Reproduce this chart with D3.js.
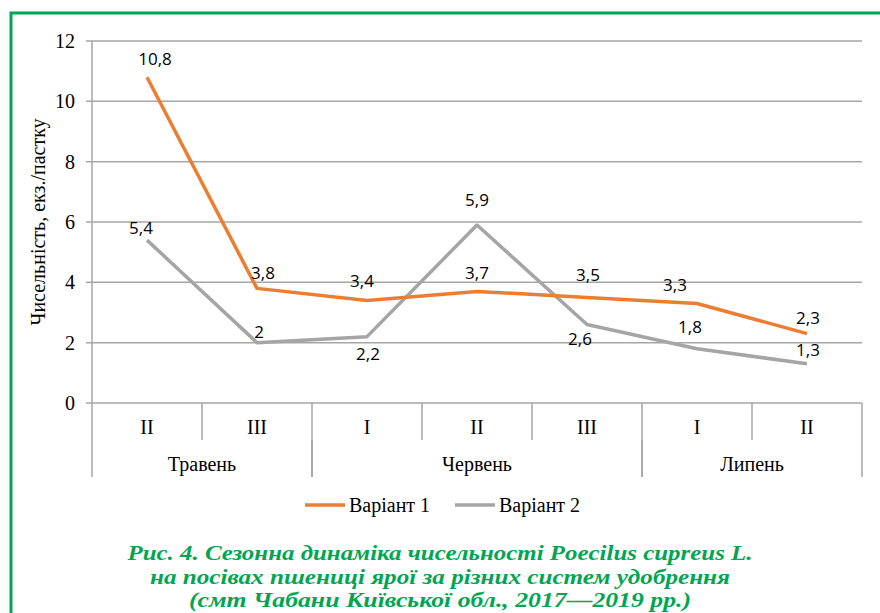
<!DOCTYPE html>
<meta charset="utf-8">
<style>
body { margin: 0; background: #fff; }
.grid line { stroke: #a6a6a6; stroke-width: 1.5; }
.series { fill: none; stroke-width: 3.5; stroke-linejoin: round; }
</style>
<body>
<script src="https://d3js.org/d3.v7.min.js"></script>
<script>

var decades = ["II", "III", "I", "II", "III", "I", "II"];
var months = ["Травень", "Червень", "Липень"];
var monthSpan = [2, 3, 2];
var variant1 = [10.8, 3.8, 3.4, 3.7, 3.5, 3.3, 2.3];
var variant2 = [5.4, 2, 2.2, 5.9, 2.6, 1.8, 1.3];
var yTicks = [0, 2, 4, 6, 8, 10, 12];
var seriesNames = ["Варіант 1", "Варіант 2"];
var colors = ["#ed7d31", "#a5a5a5"];
var caption = [
  "Рис. 4. Сезонна динаміка чисельності Poecilus cupreus L.",
  "на посівах пшениці ярої за різних систем удобрення",
  "(смт Чабани Київської обл., 2017—2019 рр.)"
];

// label offsets (dx, dy) relative to the point
var off1 = [[8, -18], [6, -15], [-5, -19], [0, -18], [1, -22], [-22, -18], [1, -16]];
var off2 = [[-6, -12], [2, -11], [1, 17], [0, -25], [-7, 14], [-7, -22], [1, -14]];
var captionWidth = [625, 580, 502];

var SERIF = "'Liberation Serif', 'Times New Roman', serif";
var SANS = "'Open Sans', 'Liberation Sans', sans-serif";

var width = 880, height = 613;
var margin = {left: 92, right: 18, top: 41, bottom: 210};

var svg = d3.select("body").append("svg")
    .attr("width", width)
    .attr("height", height);

// green frame
svg.append("path")
    .attr("d", "M11,613V13H880")
    .attr("fill", "none")
    .attr("stroke", "#00a651")
    .attr("stroke-width", 3);

var x = d3.scaleBand()
    .domain(d3.range(decades.length))
    .range([margin.left, width - margin.right]);

var y = d3.scaleLinear()
    .domain([0, 12])
    .range([height - margin.bottom, margin.top]);

function serif(sel, size) {
  return sel.style("font-family", SERIF).style("font-size", size + "px").attr("fill", "#000");
}

// gridlines + y ticks
var gy = svg.append("g").attr("class", "grid");
gy.selectAll("line.h")
    .data(yTicks)
  .enter().append("line")
    .attr("x1", margin.left - 6)
    .attr("x2", width - margin.right)
    .attr("y1", function(d) { return y(d); })
    .attr("y2", function(d) { return y(d); });

gy.append("line")
    .attr("x1", margin.left).attr("x2", margin.left)
    .attr("y1", y(12)).attr("y2", y(0));

svg.append("g")
  .selectAll("text")
    .data(yTicks)
  .enter().append("text")
    .call(serif, 20)
    .attr("x", 75)
    .attr("y", function(d) { return y(d); })
    .attr("dy", "0.35em")
    .attr("text-anchor", "end")
    .text(function(d) { return d; });

svg.append("text")
    .call(serif, 20)
    .attr("transform", "translate(38," + (y(0) + y(12)) / 2 + ") rotate(-90)")
    .attr("dy", "0.35em")
    .attr("text-anchor", "middle")
    .text("Чисельність, екз./пастку");

// category axis
var y0 = y(0);
var cats = svg.append("g").attr("class", "grid");
d3.range(decades.length + 1).forEach(function(i) {
  var xx = i < decades.length ? x(i) : x(decades.length - 1) + x.bandwidth();
  cats.append("line")
      .attr("x1", xx).attr("x2", xx)
      .attr("y1", y0).attr("y2", y0 + 37);
});
svg.selectAll("text.dec")
    .data(decades)
  .enter().append("text")
    .call(serif, 20)
    .attr("x", function(d, i) { return x(i) + x.bandwidth() / 2; })
    .attr("y", y0 + 31)
    .attr("text-anchor", "middle")
    .text(function(d) { return d; });

var start = 0;
months.forEach(function(m, k) {
  var x1 = x(start), x2 = x(start + monthSpan[k] - 1) + x.bandwidth();
  [x1, x2].forEach(function(xx) {
    cats.append("line")
        .attr("x1", xx).attr("x2", xx)
        .attr("y1", y0 + 37).attr("y2", y0 + 74);
  });
  svg.append("text")
      .call(serif, 20)
      .attr("x", (x1 + x2) / 2)
      .attr("y", y0 + 68)
      .attr("text-anchor", "middle")
      .text(m);
  start += monthSpan[k];
});

// series
var line = d3.line()
    .x(function(d, i) { return x(i) + x.bandwidth() / 2; })
    .y(function(d) { return y(d); });

[variant2, variant1].forEach(function(s) {
  var c = s === variant1 ? colors[0] : colors[1];
  svg.append("path")
      .datum(s)
      .attr("class", "series")
      .attr("stroke", c)
      .attr("d", line);
});

function labels(s, off) {
  svg.append("g").selectAll("text")
      .data(s)
    .enter().append("text")
      .style("font-family", SANS)
      .style("font-size", "17px")
      .attr("x", function(d, i) { return x(i) + x.bandwidth() / 2 + off[i][0]; })
      .attr("y", function(d, i) { return y(d) + off[i][1]; })
      .attr("dy", "0.35em")
      .attr("text-anchor", "middle")
      .text(function(d) { return String(d).replace(".", ","); });
}
labels(variant1, off1);
labels(variant2, off2);

// legend
var leg = svg.append("g");
[[305, 349], [455, 499]].forEach(function(p, i) {
  leg.append("line")
      .attr("x1", p[0]).attr("x2", p[0] + 40)
      .attr("y1", 505).attr("y2", 505)
      .attr("stroke", colors[i])
      .attr("stroke-width", 3.5);
  leg.append("text")
      .call(serif, 20)
      .attr("x", p[1])
      .attr("y", 505)
      .attr("dy", "0.35em")
      .text(seriesNames[i]);
});

// caption
svg.selectAll("text.caption")
    .data(caption)
  .enter().append("text")
    .style("font-family", SERIF)
    .style("font-size", "21px")
    .style("font-weight", "bold")
    .style("font-style", "italic")
    .attr("fill", "#00a651")
    .attr("x", 440)
    .attr("y", function(d, i) { return 560 + i * 23.5; })
    .attr("text-anchor", "middle")
    .attr("textLength", function(d, i) { return captionWidth[i]; })
    .attr("lengthAdjust", "spacingAndGlyphs")
    .text(function(d) { return d; });

</script>
